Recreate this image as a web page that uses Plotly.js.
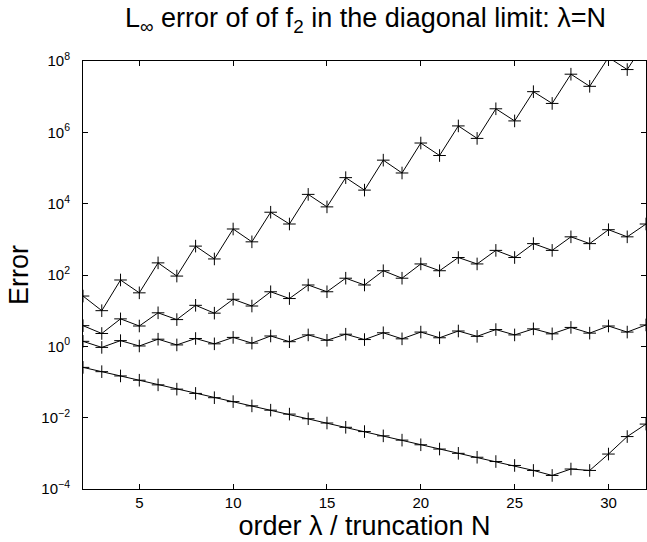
<!DOCTYPE html>
<html>
<head>
<meta charset="utf-8">
<script src="https://cdn.plot.ly/plotly-3.0.1.min.js"></script>
<style>html,body{margin:0;padding:0;background:#fff;}#chart{width:647px;height:542px;}</style>
</head>
<body>
<div id="chart"></div>
<script>
// order lambda / truncation N
const orders = [2,3,4,5,6,7,8,9,10,11,12,13,14,15,16,17,18,19,20,21,22,23,24,25,26,27,28,29,30,31,32];
// log10 of error values
const log10SeriesA = [1.41,1.00,1.86,1.50,2.34,1.97,2.81,2.45,3.29,2.93,3.76,3.43,4.26,3.91,4.73,4.38,5.22,4.86,5.70,5.35,6.18,5.83,6.66,6.32,7.14,6.81,7.63,7.29,8.10,7.76,8.57];
const log10SeriesB = [0.58,0.36,0.77,0.57,0.94,0.75,1.15,0.93,1.32,1.13,1.53,1.34,1.72,1.53,1.91,1.72,2.12,1.91,2.31,2.12,2.49,2.31,2.69,2.49,2.88,2.69,3.07,2.88,3.27,3.07,3.43];
const log10SeriesC = [0.14,-0.03,0.16,0.01,0.20,0.04,0.22,0.07,0.25,0.09,0.29,0.13,0.32,0.17,0.34,0.19,0.38,0.21,0.40,0.24,0.43,0.28,0.47,0.32,0.49,0.35,0.53,0.37,0.57,0.40,0.60];
const log10SeriesD = [-0.59,-0.71,-0.83,-0.95,-1.08,-1.20,-1.32,-1.44,-1.55,-1.67,-1.79,-1.90,-2.03,-2.15,-2.27,-2.39,-2.51,-2.63,-2.76,-2.88,-3.00,-3.11,-3.23,-3.34,-3.48,-3.62,-3.44,-3.48,-3.02,-2.53,-2.18];
const yTickVals = [1e-4,1e-2,1e0,1e2,1e4,1e6,1e8];
const yTickText = ['10<sup>−4</sup>','10<sup>−2</sup>','10<sup>0</sup>','10<sup>2</sup>','10<sup>4</sup>','10<sup>6</sup>','10<sup>8</sup>'];
const xTickVals = [5,10,15,20,25,30];

const series = [log10SeriesA, log10SeriesB, log10SeriesC, log10SeriesD];
const traces = series.map(s => ({
  x: orders,
  y: s.map(v => Math.pow(10, v)),
  type: 'scatter',
  mode: 'lines+markers',
  line: {color: '#000', width: 1},
  marker: {symbol: 'cross-thin-open', size: 9, color: '#000', line: {color: '#000', width: 1}},
  showlegend: false
}));

const font = 'Liberation Sans, Arial, sans-serif';
const layout = {
  width: 647, height: 542,
  margin: {l: 83, r: 1, t: 61, b: 53},
  paper_bgcolor: '#fff', plot_bgcolor: '#fff',
  font: {family: font, color: '#000'},
  title: {text: 'L<sub>∞</sub> error of of f<sub>2</sub> in the diagonal limit: λ=N', font: {family: font, size: 27, color: '#000'}, x: 0.565, xanchor: 'center', y: 0.985, yanchor: 'top'},
  xaxis: {
    range: [2, 32], tickvals: xTickVals, ticks: 'inside', ticklen: 5, tickcolor: '#000',
    showline: true, linecolor: '#000', linewidth: 1, mirror: 'ticks', showgrid: false, zeroline: false,
    tickfont: {family: font, size: 15, color: '#000'},
    title: {text: 'order λ / truncation N', font: {family: font, size: 27, color: '#000'}, standoff: 0}
  },
  yaxis: {
    type: 'log', range: [-4, 8], tickvals: yTickVals, ticktext: yTickText, ticks: 'inside', ticklen: 5, tickcolor: '#000',
    showline: true, linecolor: '#000', linewidth: 1, mirror: 'ticks', showgrid: false, zeroline: false,
    tickfont: {family: font, size: 15, color: '#000'}, ticklabelstandoff: 9,
    title: {text: 'Error', font: {family: font, size: 27, color: '#000'}, standoff: 4}
  }
};
Plotly.newPlot('chart', traces, layout, {displayModeBar: false, staticPlot: true});
</script>
</body>
</html>
